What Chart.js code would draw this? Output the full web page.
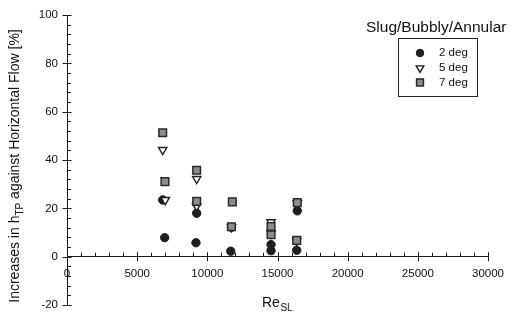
<!DOCTYPE html>
<html>
<head>
<meta charset="utf-8">
<script src="https://cdn.jsdelivr.net/npm/chart.js@4/dist/chart.umd.min.js"></script>
<style>
html,body{margin:0;padding:0;background:#fff;}
#wrap{width:514px;height:312px;position:relative;}
</style>
</head>
<body>
<div id="wrap"><canvas id="c" width="514" height="312"></canvas></div>
<script>
// ---- data ----
const seriesNames = ["2 deg", "5 deg", "7 deg"];
const deg2X = [6820, 6960, 9240, 9190, 11720, 11670, 14540, 14540, 16410, 16370];
const deg2Y = [23.5, 7.9, 18.0, 5.8, 12.2, 2.3, 5.0, 2.5, 19.0, 2.7];
const deg5X = [6820, 7000, 9240, 9240, 11720, 14540, 14540, 16410, 16370];
const deg5Y = [44.2, 23.5, 32.2, 21.0, 12.3, 14.3, 9.6, 22.2, 6.6];
const deg7X = [6820, 6980, 9240, 9240, 11780, 11720, 14540, 14540, 16410, 16370];
const deg7Y = [51.3, 31.1, 35.8, 22.9, 22.7, 12.4, 12.5, 9.1, 22.4, 6.8];
const xTicks = [0, 5000, 10000, 15000, 20000, 25000, 30000];
const yTicks = [-20, 0, 20, 40, 60, 80, 100];
const legendTitle = "Slug/Bubbly/Annular";

const FONT = "'Liberation Sans', Arial, Helvetica, sans-serif";
const pts = (xs, ys) => xs.map((x, i) => ({x: x, y: ys[i]}));

const styles = [
  {pointStyle: 'circle', radius: 4.2, backgroundColor: '#1e1e1e', borderColor: '#1e1e1e', borderWidth: 1, rotation: 0},
  {pointStyle: 'triangle', radius: 4.8, backgroundColor: '#ffffff', borderColor: '#1e1e1e', borderWidth: 1.4, rotation: 180},
  {pointStyle: 'rect', radius: 5.4, backgroundColor: '#8c8c8c', borderColor: '#2a2a2a', borderWidth: 1.5, rotation: 0}
];

const datasets = [pts(deg2X, deg2Y), pts(deg5X, deg5Y), pts(deg7X, deg7Y)].map((d, i) => ({
  label: seriesNames[i],
  data: d,
  showLine: false,
  pointStyle: styles[i].pointStyle,
  pointRadius: styles[i].radius,
  pointHoverRadius: styles[i].radius,
  pointBackgroundColor: styles[i].backgroundColor,
  pointBorderColor: styles[i].borderColor,
  pointBorderWidth: styles[i].borderWidth,
  pointRotation: styles[i].rotation,
  order: 3 - i
}));

const decor = {
  id: 'decor',
  afterDraw(chart) {
    const ctx = chart.ctx;
    const xs = chart.scales.x, ys = chart.scales.y;
    const x0 = ys.right, y0 = ys.getPixelForValue(0);
    ctx.save();
    ctx.strokeStyle = '#1a1a1a';
    ctx.lineWidth = 1;
    // y ticks
    for (let v = -20; v <= 100; v += 4) {
      const py = Math.round(ys.getPixelForValue(v)) + 0.5;
      ctx.beginPath();
      if (v % 20 === 0) { ctx.moveTo(x0 - 4.5, py); ctx.lineTo(x0 + 4.5, py); }
      else { ctx.moveTo(x0, py); ctx.lineTo(x0 + 4, py); }
      ctx.stroke();
    }
    // x ticks
    for (let v = 0; v <= 30000; v += 1000) {
      const px = Math.round(xs.getPixelForValue(v)) + 0.5;
      ctx.beginPath();
      if (v % 5000 === 0) { ctx.moveTo(px, y0 - 4.5); ctx.lineTo(px, y0 + 4.5); }
      else { ctx.moveTo(px, y0); ctx.lineTo(px, y0 - 4); }
      ctx.stroke();
    }
    ctx.fillStyle = '#111';
    // y title with subscript
    ctx.save();
    ctx.translate(19, 166);
    ctx.rotate(-Math.PI / 2);
    const big = "14px " + FONT, small = "10px " + FONT;
    const p1 = "Increases in h", sub = "TP", p2 = " against Horizontal Flow [%]";
    ctx.font = big; const w1 = ctx.measureText(p1).width, w3 = ctx.measureText(p2).width;
    ctx.font = small; const w2 = ctx.measureText(sub).width;
    let sx = -(w1 + w2 + w3) / 2;
    ctx.textBaseline = 'alphabetic'; ctx.textAlign = 'left';
    ctx.font = big; ctx.fillText(p1, sx, 0); sx += w1;
    ctx.font = small; ctx.fillText(sub, sx, 4); sx += w2;
    ctx.font = big; ctx.fillText(p2, sx, 0);
    ctx.restore();
    // x title
    ctx.textAlign = 'left'; ctx.textBaseline = 'alphabetic';
    ctx.font = "14px " + FONT;
    ctx.fillText("Re", 262, 307);
    const wr = ctx.measureText("Re").width;
    ctx.font = "10px " + FONT;
    ctx.fillText("SL", 262 + wr + 0.5, 311);
    // legend
    ctx.font = "15.5px " + FONT;
    ctx.fillText(legendTitle, 366, 31.5);
    ctx.strokeStyle = '#222'; ctx.lineWidth = 1;
    ctx.strokeRect(398.5, 38.5, 79, 58);
    ctx.font = "11.5px " + FONT;
    ctx.textBaseline = 'middle';
    const rows = [53, 68, 82.5];
    seriesNames.forEach((n, i) => {
      const s = styles[i];
      ctx.fillStyle = s.backgroundColor; ctx.strokeStyle = s.borderColor; ctx.lineWidth = s.borderWidth;
      Chart.helpers.drawPoint(ctx, {pointStyle: s.pointStyle, radius: s.radius * 0.9, rotation: s.rotation, borderWidth: s.borderWidth}, 420, rows[i]);
      ctx.fillStyle = '#111';
      ctx.fillText(n, 439, rows[i]);
    });
    ctx.restore();
  }
};

new Chart(document.getElementById('c'), {
  type: 'scatter',
  data: {datasets: datasets},
  options: {
    responsive: false,
    animation: false,
    events: [],
    layout: {padding: {left: 0, top: 15, right: 26, bottom: 3}},
    plugins: {legend: {display: false}, tooltip: {enabled: false}},
    scales: {
      x: {
        type: 'linear', min: 0, max: 30000,
        position: {y: 0},
        afterFit: (s) => { s.height = 0; s.paddingLeft = 0; s.paddingRight = 0; },
        afterBuildTicks: (s) => { s.ticks = xTicks.map(v => ({value: v})); },
        ticks: {padding: 10, color: '#111', font: {family: FONT, size: 11.5}, maxRotation: 0, autoSkip: false,
                callback: (v) => String(v)},
        grid: {display: true, drawOnChartArea: false, drawTicks: false},
        border: {display: true, color: '#1a1a1a', width: 1}
      },
      y: {
        type: 'linear', min: -20, max: 100,
        position: 'left',
        afterFit: (s) => { s.width = 67; s.paddingTop = 0; s.paddingBottom = 0; },
        afterBuildTicks: (s) => { s.ticks = yTicks.map(v => ({value: v})); },
        ticks: {padding: 9, color: '#111', font: {family: FONT, size: 11.5}, callback: (v) => String(v)},
        grid: {display: true, drawOnChartArea: false, drawTicks: false},
        border: {display: true, color: '#1a1a1a', width: 1}
      }
    }
  },
  plugins: [decor]
});
</script>
</body>
</html>
